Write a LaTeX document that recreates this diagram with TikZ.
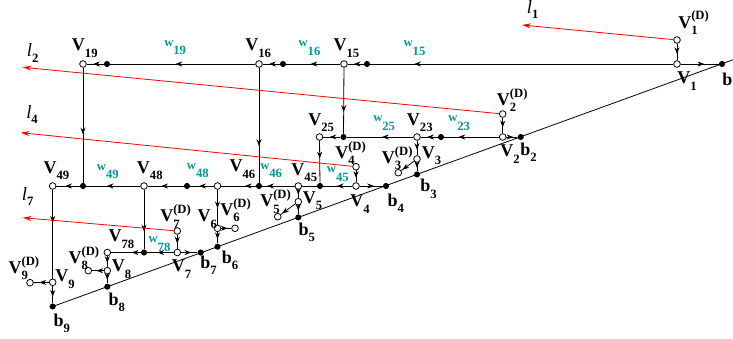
\documentclass[tikz,border=0pt]{standalone}
\usepackage{fontspec}
\setmainfont{Liberation Serif}
\usetikzlibrary{arrows.meta,decorations.markings}
\definecolor{tealc}{RGB}{0,153,153}
\newcommand\subf{\fontsize{9.5}{9.5}\selectfont\bfseries}
\newcommand\Vs[1]{V\raisebox{-5pt}{\subf #1}}
\newcommand\VD[1]{V\rlap{\raisebox{6pt}{\subf(D)}}\raisebox{-5pt}{\subf #1}}
\newcommand\bsub[1]{b\raisebox{-5pt}{\subf #1}}
\newcommand\wsub[1]{w\raisebox{-6.5pt}{\subf #1}}
\newcommand\lsub[1]{{\mdseries\itshape l}\raisebox{-4pt}{\subf #1}}
\tikzset{
  onode/.style={circle,draw,fill=white,inner sep=0pt,minimum size=5pt,line width=0.6pt},
  dnode/.style={circle,fill=black,inner sep=0pt,minimum size=4.6pt},
  edge/.style={line width=0.6pt},
  ar/.style={postaction={decorate},decoration={markings,mark=at position #1 with {\arrow{Stealth[length=5pt,width=3.8pt]}}}},
  ar/.default=0.62,
  rline/.style={draw=red,line width=0.6pt,-{Stealth[length=6.5pt,width=3.6pt]}},
  lab/.style={anchor=base west,inner sep=0pt,font=\fontsize{13.5}{15}\selectfont\bfseries},
  wl/.style={anchor=base west,inner sep=0pt,font=\fontsize{9.5}{10}\selectfont\bfseries,text=tealc},
  ll/.style={anchor=base west,inner sep=0pt,font=\fontsize{14}{15}\selectfont},
}
\begin{document}
\begin{tikzpicture}[x=0.75pt,y=-0.75pt]
\useasboundingbox (0,0) rectangle (733,339);
% open nodes
\node[onode] (V1D) at (677,40) {};
\node[onode] (V1) at (677,64) {};
\node[onode] (V15) at (344,64) {};
\node[onode] (V16) at (259,64) {};
\node[onode] (V19) at (83,64) {};
\node[onode] (V2D) at (502.7,114) {};
\node[onode] (V2) at (502.7,137) {};
\node[onode] (V23) at (417,137) {};
\node[onode] (V25) at (319.5,137) {};
\node[onode] (V3) at (417,159) {};
\node[onode] (V3D) at (398.3,172.7) {};
\node[onode] (V4D) at (356,166.7) {};
\node[onode] (V4) at (356,186) {};
\node[onode] (V45) at (298.3,186) {};
\node[onode] (V46) at (217.5,186) {};
\node[onode] (V48) at (144,186) {};
\node[onode] (V49) at (52.7,186) {};
\node[onode] (V5) at (298.3,201.7) {};
\node[onode] (V5D) at (277.7,216.7) {};
\node[onode] (V6) at (217.5,228.3) {};
\node[onode] (V6D) at (235,228.3) {};
\node[onode] (V7D) at (177.3,231) {};
\node[onode] (V7) at (177.3,252.5) {};
\node[onode] (V78) at (107.3,252.5) {};
\node[onode] (V8) at (107.3,270.7) {};
\node[onode] (V8D) at (88.3,270.7) {};
\node[onode] (V9) at (52.7,282.3) {};
\node[onode] (V9D) at (30,282.7) {};
% filled dots
\node[dnode] (b1) at (722,64) {};
\node[dnode] (a15) at (367,64) {};
\node[dnode] (a16) at (283,64) {};
\node[dnode] (a19) at (107,64) {};
\node[dnode] (b2) at (520.7,137) {};
\node[dnode] (a23) at (441,137) {};
\node[dnode] (a25) at (343.5,137) {};
\node[dnode] (b3) at (417,174.4) {};
\node[dnode] (b4) at (386,186) {};
\node[dnode] (b5) at (298.3,217.4) {};
\node[dnode] (b6) at (217.5,246.7) {};
\node[dnode] (b7) at (200.7,252.5) {};
\node[dnode] (b8) at (107.3,286.7) {};
\node[dnode] (b9) at (52.7,306.5) {};
\node[dnode] (a45) at (320,186) {};
\node[dnode] (a46) at (259,186) {};
\node[dnode] (a48) at (187,186) {};
\node[dnode] (a49) at (83,186) {};
\node[dnode] (a78) at (144,252.5) {};
\coordinate (bend) at (745,55.4);
\coordinate (l1e) at (522,25);
\coordinate (l2e) at (22.7,67.3);
\coordinate (l4e) at (20.7,132.7);
\coordinate (l7e) at (22.7,217.7);
% base line
\draw[edge] (b9.center) -- (bend);
% top row
\draw[edge,ar] (V1D) -- (V1);
\draw[edge,ar] (V1) -- (b1);
\draw[edge,ar=0.855] (V1) -- (a15);
\draw[edge,ar] (a15) -- (V15);
\draw[edge,ar=0.55] (V15) -- (a16);
\draw[edge,ar] (a16) -- (V16);
\draw[edge,ar=0.55] (V16) -- (a19);
\draw[edge,ar] (a19) -- (V19);
\draw[edge,ar=0.67] (V15) -- (a25);
\draw[edge,ar=0.68] (V16) -- (a46);
\draw[edge,ar=0.58] (V19) -- (a49);
% row 2
\draw[edge,ar] (V2D) -- (V2);
\draw[edge,ar] (V2) -- (b2);
\draw[edge,ar=0.74] (V2) -- (a23);
\draw[edge,ar] (a23) -- (V23);
\draw[edge,ar=0.47] (V23) -- (a25);
\draw[edge,ar] (a25) -- (V25);
\draw[edge,ar=0.42] (V25) -- (a45);
\draw[edge,ar] (V23) -- (V3);
\draw[edge,ar] (V3) -- (b3);
\draw[edge,ar=0.9] (V3) -- (V3D);
% row 3
\draw[edge,ar] (V4D) -- (V4);
\draw[edge,ar] (V4) -- (b4);
\draw[edge,ar=0.53] (V4) -- (a45);
\draw[edge] (a45) -- (V45);
\draw[edge,ar=0.85] (V45) -- (a46);
\draw[edge,ar=0.31] (a46) -- (V46);
\draw[edge,ar] (V46) -- (a48);
\draw[edge,ar] (a48) -- (V48);
\draw[edge,ar] (V48) -- (a49);
\draw[edge,ar] (a49) -- (V49);
\draw[edge,ar] (V45) -- (V5);
\draw[edge,ar] (V5) -- (b5);
\draw[edge,ar=0.9] (V5) -- (V5D);
\draw[edge,ar=0.53] (V46) -- (V6);
\draw[edge,ar] (V6) -- (b6);
\draw[edge,ar] (V6) -- (V6D);
\draw[edge,ar=0.7] (V48) -- (a78);
\draw[edge,ar=0.37] (V49) -- (V9);
% row 4
\draw[edge,ar] (V7D) -- (V7);
\draw[edge,ar] (V7) -- (b7);
\draw[edge,ar] (V7) -- (a78);
\draw[edge,ar=0.3] (a78) -- (V78);
\draw[edge,ar] (V78) -- (V8);
\draw[edge,ar] (V8) -- (b8);
\draw[edge,ar] (V8) -- (V8D);
\draw[edge,ar] (V9) -- (b9);
\draw[edge,ar] (V9) -- (V9D);
% red lines
\draw[rline] (V1D) -- (l1e);
\draw[rline] (V2D) -- (l2e);
\draw[rline] (V4D) -- (l4e);
\draw[rline] (V7D) -- (l7e);
% labels
\node[lab] (tV1D) at (678,28) {\VD{1}};
\node[lab] (tV1) at (677,84) {\Vs{1}};
\node[lab] (tb1) at (722,85) {\bsub{1}};
\node[lab] (tV2D) at (496.7,105) {\VD{2}};
\node[lab] (tV2) at (500,156.7) {\Vs{2}};
\node[lab] (tb2) at (520,155) {\bsub{2}};
\node[lab] (tV23) at (406.7,125) {\Vs{23}};
\node[wl] (tw23) at (448,121.7) {\wsub{23}};
\node[wl] (tw25) at (373,121.7) {\wsub{25}};
\node[lab] (tV25) at (308,125) {\Vs{25}};
\node[lab] (tV4D) at (335,158.3) {\VD{4}};
\node[wl] (tw45) at (326.7,172.7) {\wsub{45}};
\node[lab] (tV45) at (291.2,175) {\Vs{45}};
\node[lab] (tV3D) at (381.7,163.3) {\VD{3}};
\node[lab] (tV3) at (421.7,158.3) {\Vs{3}};
\node[lab] (tb3) at (420,191.7) {\bsub{3}};
\node[lab] (tV4) at (350,206.7) {\Vs{4}};
\node[lab] (tb4) at (387.3,206) {\bsub{4}};
\node[lab] (tV5D) at (260,206.7) {\VD{5}};
\node[lab] (tV5) at (302.7,203.3) {\Vs{5}};
\node[lab] (tb5) at (298.3,235) {\bsub{5}};
\node[lab] (tV46) at (229.3,171.7) {\Vs{46}};
\node[wl] (tw46) at (260,169.3) {\wsub{46}};
\node[wl] (tw48) at (186.7,169.3) {\wsub{48}};
\node[lab] (tV48) at (136.7,173.3) {\Vs{48}};
\node[wl] (tw49) at (96.7,170) {\wsub{49}};
\node[lab] (tV49) at (43.3,173.3) {\Vs{49}};
\node[lab] (tV7D) at (160,221.7) {\VD{7}};
\node[wl] (tw78) at (148.3,242.7) {\wsub{78}};
\node[lab] (tV6) at (197.3,221.7) {\Vs{6}};
\node[lab] (tV6D) at (220,215) {\VD{6}};
\node[lab] (tV7) at (171.7,271.7) {\Vs{7}};
\node[lab] (tb7) at (200,268.3) {\bsub{7}};
\node[lab] (tb6) at (221.7,263.3) {\bsub{6}};
\node[lab] (tV78) at (108.3,241.7) {\Vs{78}};
\node[lab] (tV8D) at (68.3,263.3) {\VD{8}};
\node[lab] (tV8) at (111.7,271.7) {\Vs{8}};
\node[lab] (tb8) at (108.3,305) {\bsub{8}};
\node[lab] (tV9D) at (8.3,273.3) {\VD{9}};
\node[lab] (tV9) at (55,281.7) {\Vs{9}};
\node[lab] (tb9) at (53.3,326) {\bsub{9}};
\node[lab] (tV19) at (71.7,50.7) {\Vs{19}};
\node[wl] (tw19) at (164,46) {\wsub{19}};
\node[lab] (tV16) at (245,50.7) {\Vs{16}};
\node[wl] (tw16) at (298.3,46.7) {\wsub{16}};
\node[lab] (tV15) at (333.3,50.7) {\Vs{15}};
\node[wl] (tw15) at (403.3,46.7) {\wsub{15}};
\node[ll] (tl1) at (526.7,13.3) {\lsub{1}};
\node[ll] (tl2) at (26.7,56.7) {\lsub{2}};
\node[ll] (tl4) at (26,118.3) {\lsub{4}};
\node[ll] (tl7) at (21.7,200) {\lsub{7}};
\end{tikzpicture}
\end{document}
